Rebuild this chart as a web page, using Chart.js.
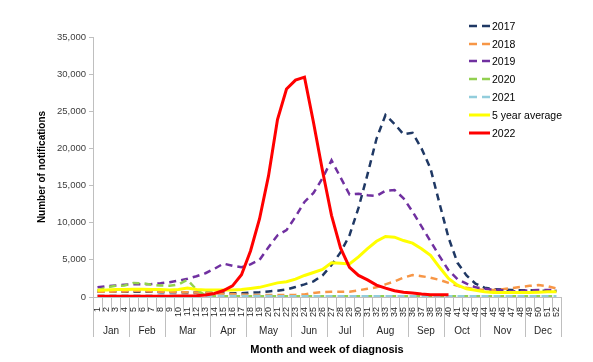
<!DOCTYPE html>
<html>
<head>
<meta charset="utf-8">
<script src="https://cdn.jsdelivr.net/npm/chart.js@4.4.0/dist/chart.umd.min.js"></script>
<style>
  html, body { margin: 0; padding: 0; background: #fff; }
  #wrap { position: relative; width: 593px; height: 362px; }
  #legend { position: absolute; left: 469px; top: 17px; font: 10.5px "Liberation Sans", Arial, sans-serif; color: #000; }
  .item { display: flex; align-items: center; height: 17.8px; white-space: nowrap; }
  .item svg { margin-right: 2px; }
</style>
</head>
<body>
<div id="wrap">
  <canvas id="chart" width="593" height="362"></canvas>
  <div id="legend"></div>
</div>
<script>
// Week labels and months (x axis)
const weekLabels = ['1','2','3','4','5','6','7','8','9','10','11','12','13','14','15','16','17','18','19','20',
  '21','22','23','24','25','26','27','28','29','30','31','32','33','34','35','36','37','38','39','40',
  '41','42','43','44','45','46','47','48','49','50','51','52'];
const monthNames = ['Jan','Feb','Mar','Apr','May','Jun','Jul','Aug','Sep','Oct','Nov','Dec'];
const weeksPerMonth = [4, 4, 5, 4, 5, 4, 4, 5, 4, 4, 5, 4];

// Notifications per week
const cases2017 = [700,750,750,700,700,700,700,650,650,650,600,600,600,550,550,500,500,580,650,750,
  850,1000,1350,1700,2100,2900,4300,6000,8300,12000,16500,21300,24500,23300,21900,22100,20000,17300,12600,8000,
  4600,2900,1800,1250,1050,1000,950,900,900,850,800,800];
const cases2018 = [700,700,750,750,800,800,750,700,700,650,650,600,550,500,450,400,350,280,280,280,
  280,280,280,350,550,650,700,700,710,900,1100,1300,1700,2100,2600,2950,2800,2600,2300,1900,
  1500,1250,1050,950,950,1050,1200,1350,1500,1600,1450,1150];
const cases2019 = [1300,1450,1550,1650,1700,1700,1750,1850,2000,2200,2450,2800,3200,3800,4500,4200,4000,4400,5000,6700,
  8300,9000,10800,12800,14000,16000,18400,16100,13800,13900,13700,13600,14300,14400,13300,11500,9500,7500,5500,3600,
  2400,1800,1300,1100,1000,900,750,800,900,950,950,900];
const cases2020 = [900,1300,1500,1550,1900,1850,1650,1550,1500,1700,2300,1000,200,100,100,100,100,100,100,100,
  100,100,100,100,100,100,100,100,100,100,100,100,100,100,100,100,100,100,100,100,
  100,100,100,100,100,100,100,100,100,100,100,100];
const cases2021 = [200,200,200,200,200,200,200,200,200,200,200,200,150,150,150,150,150,150,150,150,
  100,100,100,100,100,100,100,100,100,100,100,100,100,100,100,100,100,100,100,100,
  100,100,100,100,100,100,100,100,100,100,100,100];
const avg5yr = [900,950,1000,1000,1050,1050,1000,1000,950,1000,1200,1000,950,950,950,950,1000,1150,1300,1600,
  1900,2050,2400,2900,3300,3700,4600,4550,4450,5400,6500,7500,8150,8050,7600,7250,6500,5600,4000,2500,
  1600,1100,900,700,600,600,600,600,600,650,700,700];
const cases2022 = [100,100,100,100,100,100,100,100,100,120,150,180,270,470,870,1500,3000,6200,10500,16300,
  23900,28000,29200,29600,23500,17000,11000,6600,4000,2900,2300,1600,1200,850,650,550,400,300,300,300,
  null,null,null,null,null,null,null,null,null,null,null,null];

const seriesNames = ['2017', '2018', '2019', '2020', '2021', '5 year average', '2022'];
const seriesData = [cases2017, cases2018, cases2019, cases2020, cases2021, avg5yr, cases2022];
const seriesColors = ['#1F3864', '#F79646', '#7030A0', '#92D050', '#92CDDC', '#FFFF00', '#FF0000'];
const dashed = [true, true, true, true, true, false, false];

const FONT = '"Liberation Sans", Arial, sans-serif';
Chart.defaults.font.family = FONT;

const datasets = seriesNames.map((name, i) => ({
  label: name,
  data: seriesData[i],
  borderColor: seriesColors[i],
  backgroundColor: seriesColors[i],
  borderWidth: dashed[i] ? 2.5 : 3,
  borderDash: dashed[i] ? [7, 5] : [],
  pointRadius: 0,
  tension: 0,
  fill: false,
  spanGaps: false,
  order: seriesNames.length - i
}));

// Month labels and separators under the week numbers
const monthAxis = {
  id: 'monthAxis',
  afterDraw(chart) {
    const { ctx, chartArea } = chart;
    const x = chart.scales.x;
    const step = x.getPixelForValue(1) - x.getPixelForValue(0);
    const start = x.getPixelForValue(0) - step / 2;
    const y0 = chartArea.bottom;
    ctx.save();
    ctx.strokeStyle = '#BFBFBF';
    ctx.lineWidth = 1;
    ctx.beginPath();
    for (let i = 0; i <= weekLabels.length; i++) {
      const px = Math.round(start + i * step) + 0.5;
      ctx.moveTo(px, y0);
      ctx.lineTo(px, y0 + 15);
    }
    let w = 0;
    const bounds = [0];
    weeksPerMonth.forEach(n => { w += n; bounds.push(w); });
    bounds.forEach(b => {
      const px = Math.round(start + b * step) + 0.5;
      ctx.moveTo(px, y0);
      ctx.lineTo(px, y0 + 40);
    });
    ctx.stroke();
    ctx.fillStyle = '#262626';
    ctx.font = '10px ' + FONT;
    ctx.textAlign = 'center';
    ctx.textBaseline = 'middle';
    monthNames.forEach((m, i) => {
      const cx = start + (bounds[i] + bounds[i + 1]) / 2 * step;
      ctx.fillText(m, cx, y0 + 34);
    });
    ctx.restore();
  }
};

new Chart(document.getElementById('chart'), {
  type: 'line',
  data: { labels: weekLabels, datasets: datasets },
  options: {
    responsive: false,
    animation: false,
    layout: { padding: { top: 37, right: 32, bottom: 0, left: 0 } },
    plugins: { legend: { display: false }, tooltip: { enabled: false } },
    scales: {
      x: {
        type: 'category',
        offset: true,
        grid: { display: false },
        border: { display: true, color: '#BFBFBF' },
        ticks: { autoSkip: false, maxRotation: 90, minRotation: 90, padding: 2, color: '#262626', font: { size: 9 } },
        title: { display: true, text: 'Month and week of diagnosis', color: '#000', font: { size: 11, weight: 'bold' }, padding: { top: 0, bottom: 5 } },
        afterFit: s => { s.height = 65; }
      },
      y: {
        min: 0,
        max: 35000,
        grid: { drawOnChartArea: false, tickLength: 4, color: '#BFBFBF' },
        border: { color: '#BFBFBF' },
        ticks: { stepSize: 5000, padding: 3, color: '#404040', font: { size: 9.5 },
          callback: v => v.toLocaleString('en-US') },
        title: { display: true, text: 'Number of notifications', color: '#000', font: { size: 10, weight: 'bold' }, padding: { top: 36, bottom: 0 } },
        afterFit: s => { s.width = 93; }
      }
    }
  },
  plugins: [monthAxis]
});

// HTML legend
const legend = document.getElementById('legend');
seriesNames.forEach((name, i) => {
  const item = document.createElement('div');
  item.className = 'item';
  const dash = dashed[i] ? 'stroke-dasharray="8,5"' : '';
  item.innerHTML = `<svg width="21" height="6"><line x1="0" y1="3" x2="21" y2="3" stroke="${seriesColors[i]}" stroke-width="${dashed[i] ? 2.5 : 3}" ${dash}/></svg><span>${name}</span>`;
  legend.appendChild(item);
});
</script>
</body>
</html>
